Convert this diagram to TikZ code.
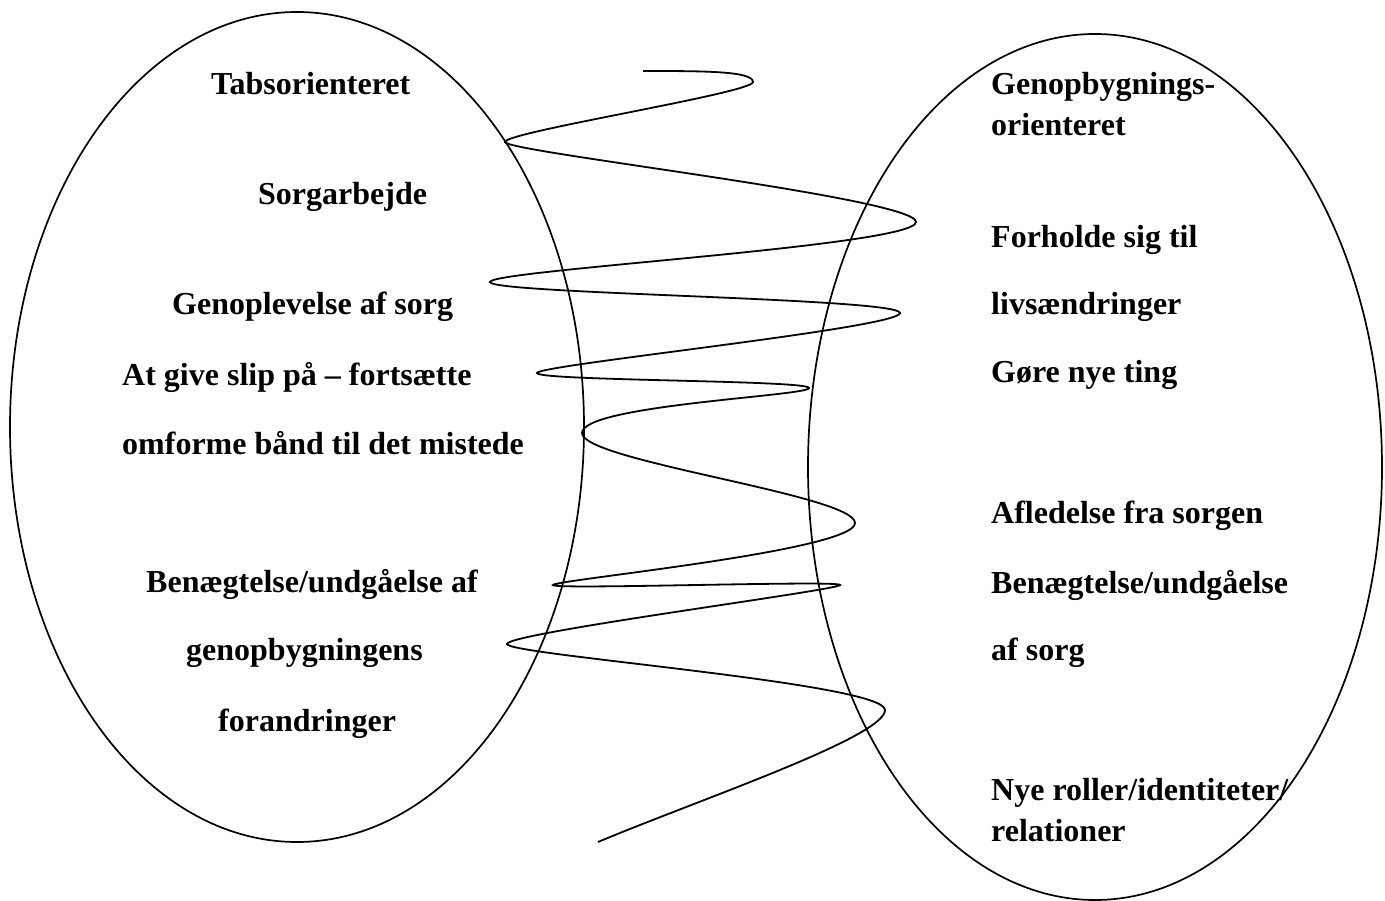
\documentclass[tikz,border=0pt]{standalone}
\usepackage{fontspec}
\setmainfont{Liberation Serif}
\usetikzlibrary{shapes.geometric}
\begin{document}
\begin{tikzpicture}[x=1pt,y=-1pt,
  oval/.style={draw,ellipse,line width=1.7pt,inner sep=0pt,outer sep=0pt},
  lbl/.style={anchor=base west,inner sep=0pt,font=\bfseries\fontsize{32}{38}\selectfont},
  wave/.style={line width=1.8pt}]
\useasboundingbox (0,0) rectangle (1385,901);
\node[oval,minimum width=574pt,minimum height=830pt] (L) at (297,427) {};
\node[oval,minimum width=574pt,minimum height=866pt] (R) at (1095,467) {};
% left texts
\node[lbl] (l1) at (211,95) {Tabsorienteret};
\node[lbl] (l2) at (258,205) {Sorgarbejde};
\node[lbl] (l3) at (172,315) {Genoplevelse af sorg};
\node[lbl] (l4) at (122,385) {At give slip på – fortsætte};
\node[lbl] (l5) at (122,454) {omforme bånd til det mistede};
\node[lbl] (l6) at (146,592) {Benægtelse/undgåelse af};
\node[lbl] (l7) at (186,660) {genopbygningens};
\node[lbl] (l8) at (218,731) {forandringer};
% right texts
\node[lbl] (r1) at (991,95) {Genopbygnings-};
\node[lbl] (r2) at (991,136) {orienteret};
\node[lbl] (r3) at (991,248) {Forholde sig til};
\node[lbl] (r4) at (991,315) {livsændringer};
\node[lbl] (r5) at (991,383) {Gøre nye ting};
\node[lbl] (r6) at (991,523) {Afledelse fra sorgen};
\node[lbl] (r7) at (991,593) {Benægtelse/undgåelse};
\node[lbl] (r8) at (991,660) {af sorg};
\node[lbl] (r9) at (991,800) {Nye roller/identiteter/};
\node[lbl] (r10) at (991,841) {relationer};
% squiggle turn points
\coordinate (s) at (643,71);
\coordinate (t1) at (753,82);
\coordinate (t2) at (505,142);
\coordinate (t3) at (916,222);
\coordinate (t4) at (490,282);
\coordinate (t5) at (900,313);
\coordinate (t6) at (537,373);
\coordinate (t7) at (809,388);
\coordinate (t8) at (582,433);
\coordinate (t9) at (855,523);
\coordinate (t10) at (553,585);
\coordinate (t11) at (840,585);
\coordinate (t12) at (507,644);
\coordinate (t13) at (885,710);
\coordinate (e) at (598,842);
\draw[wave] (s) .. controls +(60,0) and +(0,-11) .. (t1)
  .. controls +(0,11) and +(0,-10) .. (t2)
  .. controls +(0,10) and +(0,-24) .. (t3)
  .. controls +(0,24) and +(0,-12) .. (t4)
  .. controls +(0,12) and +(0,-15) .. (t5)
  .. controls +(0,15) and +(0,-8) .. (t6)
  .. controls +(0,8) and +(0,-8) .. (t7)
  .. controls +(0,8) and +(0,-28) .. (t8)
  .. controls +(0,28) and +(0,-28) .. (t9)
  .. controls +(0,28) and +(0,-5) .. (t10)
  .. controls +(0,5) and +(0,-5) .. (t11)
  .. controls +(0,5) and +(0,-11) .. (t12)
  .. controls +(0,11) and +(0,-27) .. (t13)
  .. controls +(0,27) and +(100,-42) .. (e);
\end{tikzpicture}
\end{document}
